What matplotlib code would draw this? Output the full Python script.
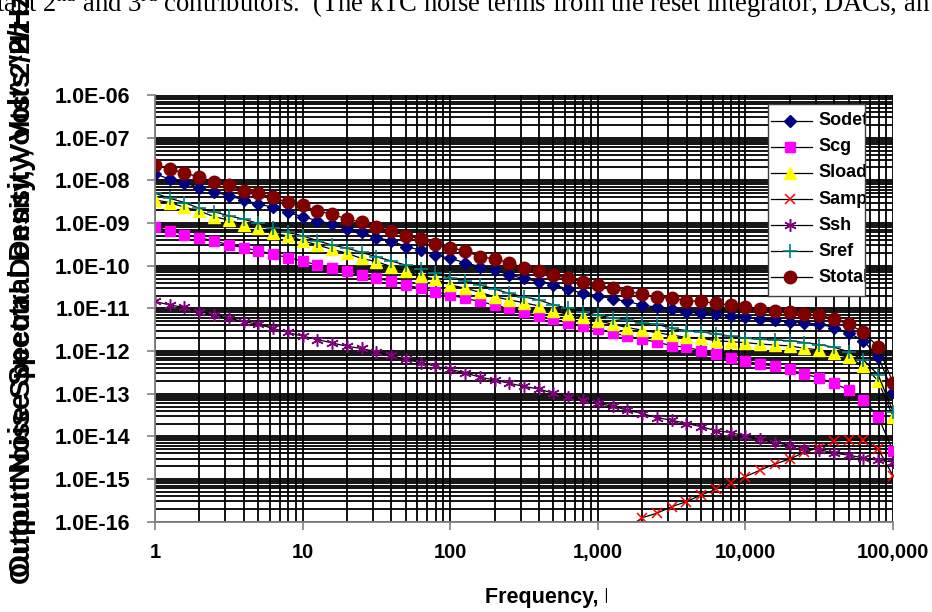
import matplotlib.pyplot as plt
from matplotlib.ticker import LogLocator, FuncFormatter, NullFormatter
from matplotlib.lines import Line2D
from matplotlib.transforms import Bbox, TransformedBbox

plt.rcParams["mathtext.fontset"] = "custom"
plt.rcParams["mathtext.rm"] = "Liberation Serif"

W, H = 932, 612

# frequency points, 10 per decade
freq = [1, 1.26, 1.58, 2, 2.51, 3.16, 3.98, 5.01, 6.31, 7.94,
        10, 12.6, 15.8, 20, 25.1, 31.6, 39.8, 50.1, 63.1, 79.4,
        100, 126, 158, 200, 251, 316, 398, 501, 631, 794,
        1000, 1260, 1580, 2000, 2510, 3160, 3980, 5010, 6310, 7940,
        10000, 12600, 15800, 20000, 25100, 31600, 39800, 50100, 63100, 79400,
        100000]

sodet = [1.41e-8, 1.07e-8, 8.81e-9, 6.76e-9, 5.37e-9, 4.37e-9, 3.47e-9, 2.79e-9, 2.34e-9, 1.78e-9,
         1.41e-9, 1.13e-9, 9.55e-10, 7.08e-10, 6.03e-10, 4.52e-10, 3.85e-10, 2.79e-10, 2.34e-10, 1.78e-10,
         1.48e-10, 1.17e-10, 9.55e-11, 7.94e-11, 6.03e-11, 5.01e-11, 4.22e-11, 3.55e-11, 2.82e-11, 2.24e-11,
         2.00e-11, 1.66e-11, 1.45e-11, 1.20e-11, 1.06e-11, 9.66e-12, 8.32e-12, 7.59e-12, 7.41e-12, 6.76e-12,
         6.17e-12, 5.62e-12, 5.37e-12, 4.90e-12, 4.57e-12, 4.27e-12, 3.55e-12, 2.69e-12, 1.72e-12, 7.41e-13,
         1.07e-13]

scg = [7.94e-10, 6.61e-10, 5.37e-10, 4.47e-10, 3.85e-10, 3.09e-10, 2.63e-10, 2.24e-10, 1.86e-10, 1.55e-10,
       1.29e-10, 1.03e-10, 8.91e-11, 7.50e-11, 6.03e-11, 5.01e-11, 4.37e-11, 3.55e-11, 2.95e-11, 2.45e-11,
       2.04e-11, 1.72e-11, 1.45e-11, 1.20e-11, 1.00e-11, 8.13e-12, 6.61e-12, 5.62e-12, 4.47e-12, 3.89e-12,
       3.24e-12, 2.69e-12, 2.24e-12, 1.88e-12, 1.62e-12, 1.33e-12, 1.23e-12, 1.02e-12, 8.32e-13, 7.00e-13,
       5.89e-13, 4.90e-13, 4.47e-13, 3.72e-13, 2.85e-13, 2.37e-13, 1.74e-13, 1.23e-13, 7.08e-14, 2.88e-14,
       4.57e-15]

sload = [3.47e-9, 3.02e-9, 2.34e-9, 1.91e-9, 1.41e-9, 1.17e-9, 9.12e-10, 7.59e-10, 5.75e-10, 4.95e-10,
         3.85e-10, 3.05e-10, 2.43e-10, 1.95e-10, 1.48e-10, 1.24e-10, 9.55e-11, 7.59e-11, 5.75e-11, 4.79e-11,
         3.55e-11, 2.95e-11, 2.40e-11, 1.86e-11, 1.58e-11, 1.35e-11, 1.14e-11, 8.71e-12, 7.24e-12, 6.31e-12,
         5.13e-12, 4.27e-12, 3.55e-12, 3.09e-12, 2.69e-12, 2.37e-12, 2.09e-12, 2.00e-12, 1.74e-12, 1.66e-12,
         1.57e-12, 1.46e-12, 1.38e-12, 1.32e-12, 1.16e-12, 1.06e-12, 8.91e-13, 7.08e-13, 4.47e-13, 2.00e-13,
         2.88e-14]

# Samp only reaches the plot in the upper decades (from freq[31] on)
samp = [5.0e-17, 7.0e-17, 1.24e-16, 1.58e-16, 2.24e-16, 2.95e-16, 4.22e-16, 5.75e-16, 8.22e-16,
        1.14e-15, 1.62e-15, 2.24e-15, 2.95e-15, 4.27e-15, 5.43e-15, 7.76e-15, 8.22e-15, 8.22e-15, 5.01e-15,
        1.20e-15]

ssh = [1.45e-11, 1.20e-11, 1.05e-11, 8.32e-12, 7.00e-12, 5.89e-12, 4.90e-12, 4.22e-12, 3.39e-12, 2.72e-12,
       2.24e-12, 1.86e-12, 1.55e-12, 1.29e-12, 1.15e-12, 9.55e-13, 7.94e-13, 6.38e-13, 5.37e-13, 4.37e-13,
       3.72e-13, 3.09e-13, 2.45e-13, 2.09e-13, 1.76e-13, 1.48e-13, 1.29e-13, 1.02e-13, 8.51e-14, 7.08e-14,
       5.89e-14, 5.13e-14, 4.12e-14, 3.43e-14, 2.75e-14, 2.40e-14, 2.00e-14, 1.70e-14, 1.35e-14, 1.23e-14,
       1.02e-14, 8.51e-15, 7.08e-15, 6.24e-15, 5.37e-15, 4.90e-15, 4.07e-15, 3.63e-15, 3.13e-15, 2.75e-15,
       2.51e-15]

sref = [5.01e-9, 3.80e-9, 3.02e-9, 2.21e-9, 1.84e-9, 1.48e-9, 1.23e-9, 9.77e-10, 7.76e-10, 6.03e-10,
        5.01e-10, 3.85e-10, 3.05e-10, 2.57e-10, 2.04e-10, 1.62e-10, 1.29e-10, 1.03e-10, 8.32e-11, 6.84e-11,
        5.25e-11, 4.37e-11, 3.55e-11, 2.82e-11, 2.24e-11, 1.86e-11, 1.58e-11, 1.20e-11, 1.00e-11, 8.32e-12,
        6.92e-12, 5.89e-12, 5.37e-12, 4.47e-12, 4.27e-12, 3.39e-12, 3.02e-12, 2.82e-12, 2.51e-12, 2.24e-12,
        2.00e-12, 1.88e-12, 1.82e-12, 1.74e-12, 1.58e-12, 1.41e-12, 1.23e-12, 9.55e-13, 6.17e-13, 2.75e-13,
        3.80e-14]

stotal = [2.29e-8, 1.86e-8, 1.46e-8, 1.22e-8, 8.99e-9, 7.76e-9, 5.75e-9, 5.01e-9, 3.98e-9, 3.05e-9,
          2.60e-9, 1.91e-9, 1.62e-9, 1.23e-9, 1.05e-9, 7.94e-10, 6.61e-10, 5.01e-10, 4.22e-10, 3.16e-10,
          2.63e-10, 2.24e-10, 1.62e-10, 1.45e-10, 1.17e-10, 8.91e-11, 7.50e-11, 6.03e-11, 5.01e-11, 4.22e-11,
          3.55e-11, 2.95e-11, 2.45e-11, 2.19e-11, 1.82e-11, 1.72e-11, 1.51e-11, 1.45e-11, 1.32e-11, 1.20e-11,
          1.06e-11, 9.66e-12, 8.81e-12, 8.13e-12, 7.41e-12, 7.00e-12, 5.62e-12, 4.27e-12, 2.75e-12, 1.23e-12,
          1.82e-13]

series = [
    ("Sodet", freq, sodet, "D", "#000080", 6.5, 1.0),
    ("Scg", freq, scg, "s", "#FF00FF", 7, 1.0),
    ("Sload", freq, sload, "^", "#FFFF00", 8, 1.0),
    ("Samp", freq[31:], samp, "x", "#FF0000", 7, 1.1),
    ("Ssh", freq, ssh, (6, 2, 0), "#800080", 9, 1.1),
    ("Sref", freq, sref, "+", "#008080", 10, 1.2),
    ("Stotal", freq, stotal, "o", "#800000", 9, 1.0),
]

FONT = "Liberation Sans"


def fx(x):
    return x / W


def fy(y):
    return 1 - y / H


fig = plt.figure(figsize=(W / 100, H / 100), dpi=100, facecolor="white")
ax = fig.add_axes([fx(155), fy(521.7), (893 - 155) / W, (521.7 - 95) / H])

for name, xs, ys, mk, col, ms, mew in series:
    ax.plot(xs, ys, color="black", lw=0.9, marker=mk, ms=ms, mfc=col, mec=col, mew=mew)

ax.set_xscale("log")
ax.set_yscale("log")
ax.set_xlim(1, 1e5)
ax.set_ylim(1e-16, 1e-6)

ax.xaxis.set_major_locator(LogLocator(base=10, numticks=12))
ax.yaxis.set_major_locator(LogLocator(base=10, numticks=15))
ax.xaxis.set_minor_locator(LogLocator(base=10, subs=range(2, 10), numticks=100))
ax.yaxis.set_minor_locator(LogLocator(base=10, subs=range(2, 10), numticks=100))
ax.xaxis.set_minor_formatter(NullFormatter())
ax.yaxis.set_minor_formatter(NullFormatter())
ax.xaxis.set_major_formatter(FuncFormatter(lambda v, p: f"{v:,.0f}"))
ax.yaxis.set_major_formatter(FuncFormatter(lambda v, p: f"{v:.1E}"))

ax.grid(True, which="both", color="black", lw=1.3)
ax.set_axisbelow(True)
ax.tick_params(which="major", direction="out", length=6, width=1.2, color="#808080")
ax.tick_params(which="minor", length=0)
ax.tick_params(axis="x", pad=9)
ax.tick_params(axis="y", pad=12)
for lab in ax.get_xticklabels():
    lab.set_fontfamily(FONT)
    lab.set_fontweight("bold")
    lab.set_fontsize(14.5)
for lab in ax.get_yticklabels():
    lab.set_fontfamily(FONT)
    lab.set_fontweight("bold")
    lab.set_fontsize(15.5)

for s in ["top", "right"]:
    ax.spines[s].set_visible(False)
for s in ["left", "bottom"]:
    ax.spines[s].set_color("#808080")
    ax.spines[s].set_linewidth(1.3)

# axis titles (the y title shows doubled, the x title is cut off)
fig.text(fx(22), fy(577), "Output Noise Spectral Density, Volts^2/Hz", rotation=90,
         ha="center", va="bottom", fontsize=21.2, fontweight="bold", family=FONT)
fig.text(fx(23), fy(584), "Output Noise Spectral Density, Volts^2/Hz", rotation=90,
         ha="center", va="bottom", fontsize=20.4, fontweight="bold", family=FONT)

xl = fig.text(fx(485), fy(597), "Frequency, Hz", ha="left", va="center",
              fontsize=15.5, fontweight="bold", family=FONT)
xl.set_clip_box(TransformedBbox(Bbox.from_extents(0, 0, fx(607), 1), fig.transFigure))
xl.set_clip_on(True)

# document text above the chart, cut by the top edge
fig.text(-0.004, fy(12.5), r"tant 2$^{\rm nd}$ and 3$^{\rm rd}$ contributors.  (The kTC noise terms "
         r"from the reset integrator, DACs, an", ha="left", va="baseline",
         fontsize=19.2, family="Liberation Serif")

# legend box (labels clipped at the right border)
LX0, LX1, LY0, LY1 = 768, 865, 104, 296
lax = fig.add_axes([fx(LX0), fy(LY1), (LX1 - LX0) / W, (LY1 - LY0) / H])
lax.set_xlim(LX0, LX1)
lax.set_ylim(LY1, LY0)
lax.set_xticks([])
lax.set_yticks([])
for sp in lax.spines.values():
    sp.set_color("#404040")
    sp.set_linewidth(1.0)
row_y0, row_dy = 120.7, 26.1
for i, (name, xs, ys, mk, col, ms, mew) in enumerate(series):
    yy = row_y0 + i * row_dy
    lax.add_line(Line2D([771, 812], [yy, yy], color="black", lw=0.9))
    lax.add_line(Line2D([790], [yy], marker=mk, ms=ms, mfc=col, mec=col, mew=mew, color="black"))
    lax.text(818, yy, name, ha="left", va="center", fontsize=13, fontweight="bold",
             family=FONT, clip_on=True)

fig.savefig("out.png", dpi=100, facecolor="white")
